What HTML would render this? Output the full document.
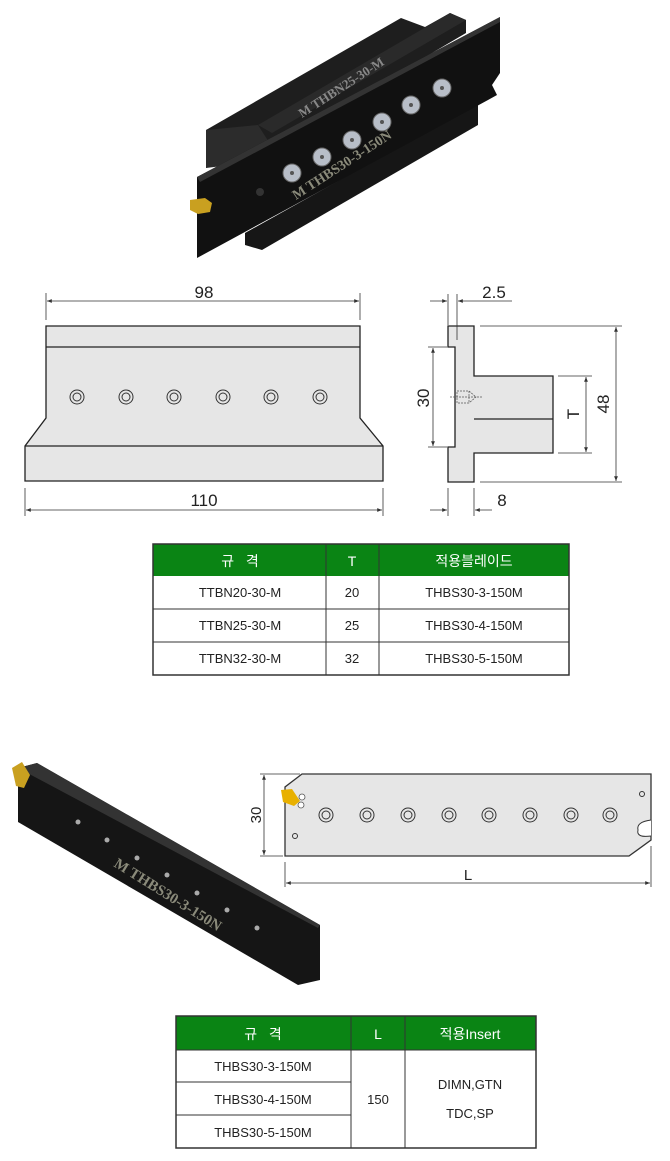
<!DOCTYPE html>
<html><head><meta charset="utf-8"><style>
html,body{margin:0;padding:0;background:#fff;}
svg{display:block;}
text{font-family:"Liberation Sans","Noto Sans CJK KR",sans-serif;}
</style></head><body>
<svg width="670" height="1161" viewBox="0 0 670 1161" xmlns="http://www.w3.org/2000/svg">
<defs>
<marker id="a" viewBox="0 0 10 10" refX="10" refY="5" markerWidth="8" markerHeight="6" orient="auto-start-reverse"><path d="M0,1 L10,5 L0,9 z" fill="#333"/></marker>
</defs>
<rect width="670" height="1161" fill="#fff"/>

<!-- Top 3D tool -->
<g>
<polygon points="206,130 401,18 425,27 450,13 466,20 466,33 272,147 206,168" fill="#1e1e1e"/>
<polygon points="258,125 450,13 466,20 272,133" fill="#2a2a2a"/>
<polygon points="206,130 258,125 272,147 272,160 206,168" fill="#2c2c2c"/>
<polygon points="245,233 478,103 478,125 262,250 245,245" fill="#161616"/>
<polygon points="197,177 500,17 500,73 492,85 497,95 488,100 197,258" fill="#111"/>
<polygon points="197,177 500,17 500,22 200,182" fill="#333"/>
<text x="0" y="0" transform="translate(302,118) rotate(-33)" style="font-family:'Liberation Serif',serif;font-weight:bold" font-size="13" fill="#888">M THBN25-30-M</text>
<text x="0" y="0" transform="translate(296,200) rotate(-33)" style="font-family:'Liberation Serif',serif;font-weight:bold" font-size="14" fill="#8a8a7a">M THBS30-3-150N</text>
<g fill="#b8bec8" stroke="#666" stroke-width="1">
<circle cx="292" cy="173" r="9"/><circle cx="322" cy="157" r="9"/><circle cx="352" cy="140" r="9"/>
<circle cx="382" cy="122" r="9"/><circle cx="411" cy="105" r="9"/><circle cx="442" cy="88" r="9"/>
</g>
<g fill="#555"><circle cx="292" cy="173" r="2"/><circle cx="322" cy="157" r="2"/><circle cx="352" cy="140" r="2"/><circle cx="382" cy="122" r="2"/><circle cx="411" cy="105" r="2"/><circle cx="442" cy="88" r="2"/></g>
<circle cx="260" cy="192" r="4" fill="#333"/>
<polygon points="190,200 205,198 212,203 210,212 198,214 190,210" fill="#c9a020"/>
</g>

<!-- Front view -->
<g stroke="#222" stroke-width="1.3" fill="#e6e6e6">
<polygon points="46,326 360,326 360,418 383,446 383,481 25,481 25,446 46,418"/>
<line x1="46" y1="347" x2="360" y2="347"/>
<line x1="25" y1="446" x2="383" y2="446"/>
</g>
<g fill="none" stroke="#333" stroke-width="1">
<circle cx="77" cy="397" r="7"/><circle cx="77" cy="397" r="4"/>
<circle cx="126" cy="397" r="7"/><circle cx="126" cy="397" r="4"/>
<circle cx="174" cy="397" r="7"/><circle cx="174" cy="397" r="4"/>
<circle cx="223" cy="397" r="7"/><circle cx="223" cy="397" r="4"/>
<circle cx="271" cy="397" r="7"/><circle cx="271" cy="397" r="4"/>
<circle cx="320" cy="397" r="7"/><circle cx="320" cy="397" r="4"/>
</g>
<g stroke="#333" stroke-width="0.8">
<line x1="46" y1="293" x2="46" y2="320"/><line x1="360" y1="293" x2="360" y2="320"/>
<line x1="47" y1="301" x2="359" y2="301" marker-start="url(#a)" marker-end="url(#a)"/>
<line x1="25" y1="488" x2="25" y2="516"/><line x1="383" y1="488" x2="383" y2="516"/>
<line x1="26" y1="510" x2="382" y2="510" marker-start="url(#a)" marker-end="url(#a)"/>
</g>
<text x="204" y="298" font-size="17" text-anchor="middle" fill="#222">98</text>
<text x="204" y="506" font-size="17" text-anchor="middle" fill="#222">110</text>

<!-- Side view -->
<g stroke="#222" stroke-width="1.3" fill="#e6e6e6">
<polygon points="448,326 474,326 474,376 553,376 553,453 474,453 474,482 448,482 448,447 455,447 455,347 448,347"/>
<line x1="474" y1="419" x2="553" y2="419"/>
</g>
<g stroke="#555" stroke-width="0.7" fill="none" stroke-dasharray="2,1">
<rect x="457" y="391" width="12" height="12"/><polyline points="469,391 476,397 469,403"/>
<line x1="450" y1="397" x2="482" y2="397"/>
</g>
<g stroke="#333" stroke-width="0.8">
<line x1="428" y1="347" x2="447" y2="347"/><line x1="428" y1="447" x2="447" y2="447"/>
<line x1="433" y1="348" x2="433" y2="446" marker-start="url(#a)" marker-end="url(#a)"/>
<line x1="558" y1="376" x2="592" y2="376"/><line x1="558" y1="453" x2="592" y2="453"/>
<line x1="586" y1="377" x2="586" y2="452" marker-start="url(#a)" marker-end="url(#a)"/>
<line x1="480" y1="326" x2="622" y2="326"/><line x1="480" y1="482" x2="622" y2="482"/>
<line x1="616" y1="327" x2="616" y2="481" marker-start="url(#a)" marker-end="url(#a)"/>
<line x1="448" y1="294" x2="448" y2="325"/><line x1="457" y1="294" x2="457" y2="340"/>
<line x1="430" y1="301" x2="447" y2="301" marker-end="url(#a)"/><line x1="512" y1="301" x2="458" y2="301" marker-end="url(#a)"/>
<line x1="448" y1="488" x2="448" y2="516"/><line x1="474" y1="488" x2="474" y2="516"/>
<line x1="430" y1="510" x2="447" y2="510" marker-end="url(#a)"/><line x1="492" y1="510" x2="475" y2="510" marker-end="url(#a)"/>
</g>
<text x="494" y="298" font-size="17" text-anchor="middle" fill="#222">2.5</text>
<text x="502" y="506" font-size="17" text-anchor="middle" fill="#222">8</text>
<text transform="translate(429,398) rotate(-90)" font-size="17" text-anchor="middle" fill="#222">30</text>
<text transform="translate(579,414) rotate(-90)" font-size="17" text-anchor="middle" fill="#222">T</text>
<text transform="translate(609,404) rotate(-90)" font-size="17" text-anchor="middle" fill="#222">48</text>

<!-- Table 1 -->
<g font-size="13" fill="#222" text-anchor="middle">
<rect x="153" y="544" width="416" height="32" fill="#0a8414"/>
<rect x="153" y="544" width="416" height="131" fill="none" stroke="#333" stroke-width="1.5"/>
<g stroke="#333" stroke-width="1"><line x1="153" y1="609" x2="569" y2="609"/><line x1="153" y1="642" x2="569" y2="642"/><line x1="326" y1="544" x2="326" y2="675"/><line x1="379" y1="544" x2="379" y2="675"/></g>
<text x="240" y="566" fill="#fff" font-size="14">규&#160;&#160;&#160;격</text>
<text x="352" y="566" fill="#fff" font-size="14">T</text>
<text x="474" y="566" fill="#fff" font-size="14">적용블레이드</text>
<text x="240" y="597">TTBN20-30-M</text><text x="352" y="597">20</text><text x="474" y="597">THBS30-3-150M</text>
<text x="240" y="630">TTBN25-30-M</text><text x="352" y="630">25</text><text x="474" y="630">THBS30-4-150M</text>
<text x="240" y="663">TTBN32-30-M</text><text x="352" y="663">32</text><text x="474" y="663">THBS30-5-150M</text>
</g>

<!-- Bottom 3D blade -->
<polygon points="18,768 37,763 320,925 320,980 298,985 18,822" fill="#151515"/>
<polygon points="18,768 37,763 320,925 318,928" fill="#333"/>
<polygon points="12,768 22,762 30,775 24,788 16,786" fill="#c9a020"/>
<text transform="translate(113,866) rotate(32)" style="font-family:'Liberation Serif',serif;font-weight:bold" font-size="15" fill="#8a8a7a">M THBS30-3-150N</text>
<g fill="#aaa"><circle cx="78" cy="822" r="2.5"/><circle cx="107" cy="840" r="2.5"/><circle cx="137" cy="858" r="2.5"/><circle cx="167" cy="875" r="2.5"/><circle cx="197" cy="893" r="2.5"/><circle cx="227" cy="910" r="2.5"/><circle cx="257" cy="928" r="2.5"/></g>

<!-- Blade drawing -->
<polygon points="302,774 651,774 651,840 629,856 285,856 285,787" fill="#e6e6e6" stroke="#333" stroke-width="1.3"/>
<path d="M651,820 Q636,822 638,830 Q636,838 651,836" fill="#fff" stroke="#333" stroke-width="1"/>
<polygon points="281,790 292,789 300,801 294,806 283,802" fill="#e8b000"/>
<circle cx="302" cy="797" r="3" fill="#fff" stroke="#555" stroke-width="0.8"/><circle cx="301" cy="805" r="3" fill="#fff" stroke="#555" stroke-width="0.8"/>
<g fill="none" stroke="#333" stroke-width="1">
<circle cx="326" cy="815" r="7"/><circle cx="326" cy="815" r="4"/>
<circle cx="367" cy="815" r="7"/><circle cx="367" cy="815" r="4"/>
<circle cx="408" cy="815" r="7"/><circle cx="408" cy="815" r="4"/>
<circle cx="449" cy="815" r="7"/><circle cx="449" cy="815" r="4"/>
<circle cx="489" cy="815" r="7"/><circle cx="489" cy="815" r="4"/>
<circle cx="530" cy="815" r="7"/><circle cx="530" cy="815" r="4"/>
<circle cx="571" cy="815" r="7"/><circle cx="571" cy="815" r="4"/>
<circle cx="610" cy="815" r="7"/><circle cx="610" cy="815" r="4"/>
<circle cx="642" cy="794" r="2.5"/><circle cx="295" cy="836" r="2.5"/>
</g>
<g stroke="#333" stroke-width="0.8">
<line x1="260" y1="774" x2="300" y2="774"/><line x1="260" y1="856" x2="283" y2="856"/>
<line x1="264" y1="775" x2="264" y2="855" marker-start="url(#a)" marker-end="url(#a)"/>
<line x1="285" y1="862" x2="285" y2="887"/><line x1="651" y1="846" x2="651" y2="887"/>
<line x1="286" y1="883" x2="650" y2="883" marker-start="url(#a)" marker-end="url(#a)"/>
</g>
<text transform="translate(261,815) rotate(-90)" font-size="15" text-anchor="middle" fill="#222">30</text>
<text x="468" y="880" font-size="15" text-anchor="middle" fill="#222">L</text>

<!-- Table 2 -->
<g font-size="13" fill="#222" text-anchor="middle">
<rect x="176" y="1016" width="360" height="34" fill="#0a8414"/>
<rect x="176" y="1016" width="360" height="132" fill="none" stroke="#333" stroke-width="1.5"/>
<g stroke="#333" stroke-width="1"><line x1="176" y1="1082" x2="351" y2="1082"/><line x1="176" y1="1115" x2="351" y2="1115"/><line x1="176" y1="1050" x2="536" y2="1050"/><line x1="351" y1="1016" x2="351" y2="1148"/><line x1="405" y1="1016" x2="405" y2="1148"/></g>
<text x="263" y="1039" fill="#fff" font-size="14">규&#160;&#160;&#160;격</text>
<text x="378" y="1039" fill="#fff" font-size="14">L</text>
<text x="470" y="1039" fill="#fff" font-size="14">적용Insert</text>
<text x="263" y="1071">THBS30-3-150M</text>
<text x="263" y="1104">THBS30-4-150M</text>
<text x="263" y="1137">THBS30-5-150M</text>
<text x="378" y="1104">150</text>
<text x="470" y="1089">DIMN,GTN</text>
<text x="470" y="1118">TDC,SP</text>
</g>
</svg>
</body></html>
